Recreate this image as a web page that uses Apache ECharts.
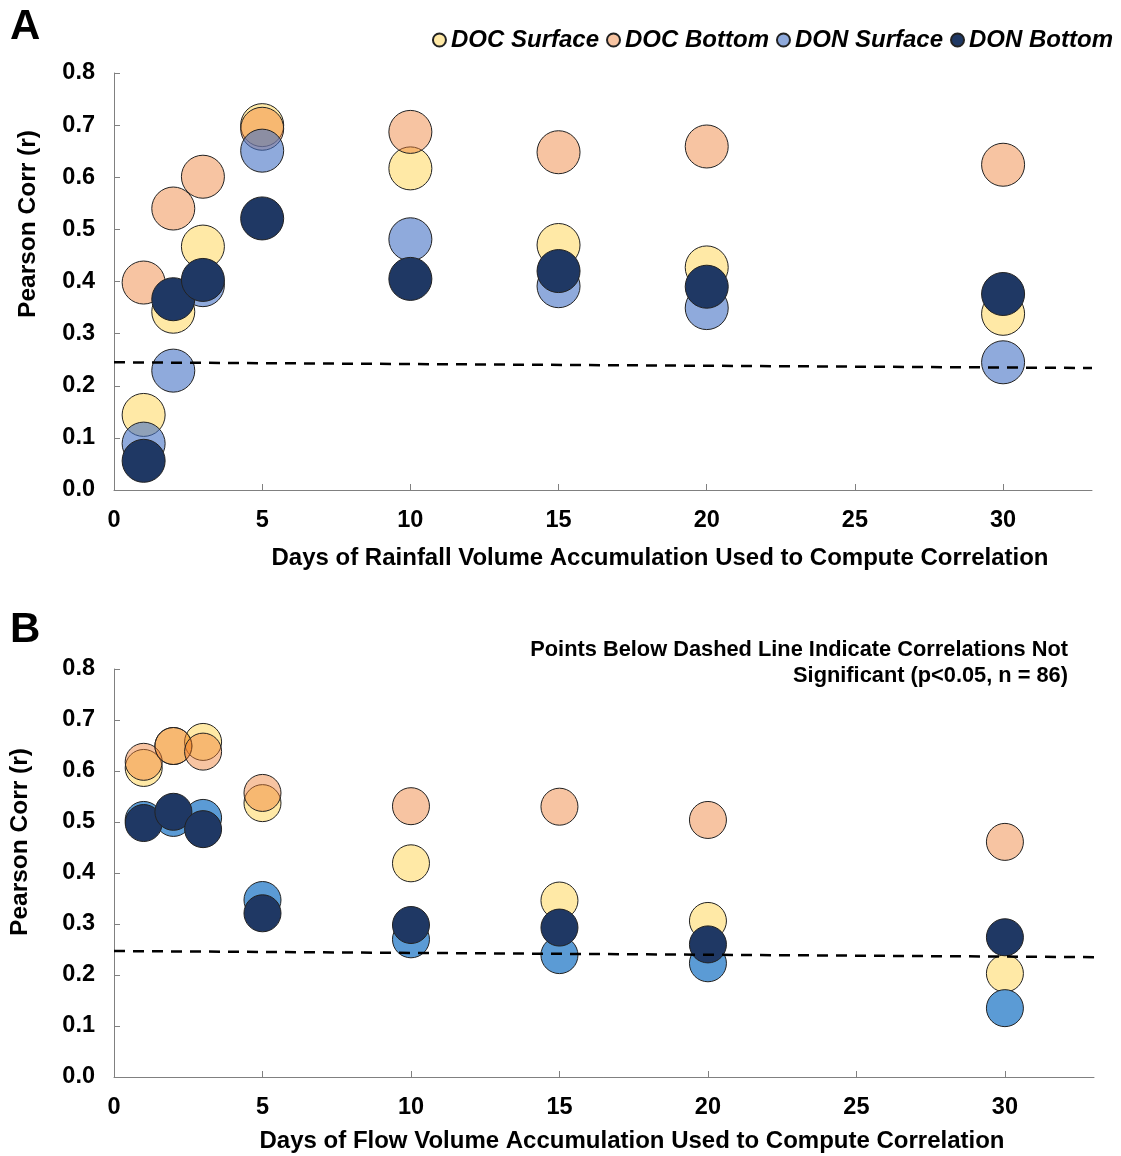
<!DOCTYPE html>
<html><head><meta charset="utf-8">
<script src="https://cdn.jsdelivr.net/npm/echarts@6/dist/echarts.min.js"></script>
<style>html,body{margin:0;padding:0;background:#fff}#c{width:1121px;height:1156px}</style>
</head><body><div id="c"></div>
<script>
// ---- data ----
const days = [1, 2, 3, 5, 10, 15, 20, 30];
const seriesNames = ['DOC Surface', 'DOC Bottom', 'DON Surface', 'DON Bottom'];

// Panel A: rainfall accumulation
const rainDocSurface = [0.144, 0.342, 0.467, 0.700, 0.617, 0.470, 0.427, 0.338];
const rainDocBottom  = [0.398, 0.540, 0.601, 0.693, 0.687, 0.648, 0.659, 0.624];
const rainDonSurface = [0.089, 0.229, 0.393, 0.651, 0.481, 0.391, 0.349, 0.245];
const rainDonBottom  = [0.056, 0.366, 0.403, 0.521, 0.405, 0.420, 0.390, 0.376];
const rainThreshold  = [[0, 0.245], [33, 0.234]];

// Panel B: flow accumulation
const flowDocSurface = [0.606, 0.649, 0.657, 0.537, 0.419, 0.346, 0.306, 0.203];
const flowDocBottom  = [0.618, 0.649, 0.638, 0.557, 0.531, 0.530, 0.504, 0.461];
const flowDonSurface = [0.504, 0.508, 0.508, 0.347, 0.270, 0.239, 0.223, 0.135];
const flowDonBottom  = [0.498, 0.520, 0.486, 0.321, 0.298, 0.293, 0.260, 0.274];
const flowThreshold  = [[0, 0.247], [33, 0.235]];

const yTicks = [0, 0.1, 0.2, 0.3, 0.4, 0.5, 0.6, 0.7, 0.8];
const xTicks = [0, 5, 10, 15, 20, 25, 30];

const FONT = '"Liberation Sans", Arial, sans-serif';
const pair = (xs, ys) => xs.map((x, i) => [x, ys[i]]);

const colorsA = ['rgba(255,192,0,0.35)', 'rgba(237,125,49,0.45)', 'rgba(68,114,196,0.6)', '#1F3864'];
const colorsB = ['rgba(255,192,0,0.35)', 'rgba(237,125,49,0.45)', '#5B9BD5', '#1F3864'];

function scatter(name, data, color, idx, size) {
  return {
    type: 'scatter', name, data, xAxisIndex: idx, yAxisIndex: idx,
    symbol: 'circle', symbolSize: size,
    itemStyle: { color, borderColor: '#222', borderWidth: 1, opacity: 1 },
    emphasis: { disabled: true }, z: 3
  };
}
function dashLine(data, idx) {
  return {
    type: 'line', data, xAxisIndex: idx, yAxisIndex: idx, showSymbol: false, symbol: 'none',
    lineStyle: { color: '#000', width: 2.5, type: [11, 8] }, silent: true, z: 5
  };
}
const axisCommon = {
  axisLine: { show: true, lineStyle: { color: '#808080', width: 1 } },
  axisTick: { show: true, inside: true, length: 6, lineStyle: { color: '#808080' } },
  splitLine: { show: false },
  axisLabel: { color: '#000', fontWeight: 'bold', fontSize: 23.5, fontFamily: FONT }
};
function xAxis(idx) {
  return Object.assign({}, axisCommon, {
    type: 'value', gridIndex: idx, min: 0, max: 33, interval: 5,
    axisLabel: Object.assign({}, axisCommon.axisLabel, { margin: 19, showMaxLabel: false,
      formatter: v => xTicks.includes(v) ? String(v) : '' })
  });
}
function yAxis(idx) {
  return Object.assign({}, axisCommon, {
    type: 'value', gridIndex: idx, min: yTicks[0], max: yTicks[yTicks.length - 1], interval: 0.1,
    axisLabel: Object.assign({}, axisCommon.axisLabel, { margin: 19, formatter: v => v.toFixed(1) })
  });
}

const rainSets = [rainDocSurface, rainDocBottom, rainDonSurface, rainDonBottom];
const flowSets = [flowDocSurface, flowDocBottom, flowDonSurface, flowDonBottom];

const series = [];
rainSets.forEach((s, i) => series.push(scatter(seriesNames[i], pair(days, s), colorsA[i], 0, 43)));
series.push(dashLine(rainThreshold, 0));
flowSets.forEach((s, i) => series.push(scatter(seriesNames[i], pair(days, s), colorsB[i], 1, 37)));
series.push(dashLine(flowThreshold, 1));

const titleStyle = { fill: '#000', fontWeight: 'bold', fontFamily: FONT };

const option = {
  animation: false,
  backgroundColor: '#fff',
  grid: [
    { left: 114, top: 73, width: 978, height: 417 },
    { left: 114, top: 669, width: 980, height: 408 }
  ],
  xAxis: [xAxis(0), xAxis(1)],
  yAxis: [yAxis(0), yAxis(1)],
  legend: {
    data: seriesNames, right: 3, top: 23, icon: 'circle', itemWidth: 13, itemHeight: 13,
    itemGap: 7, selectedMode: false,
    textStyle: { color: '#000', fontWeight: 'bold', fontStyle: 'italic', fontSize: 24, fontFamily: FONT }
  },
  graphic: [
    { type: 'text', left: 10, top: 6, style: Object.assign({ text: 'A', fontSize: 42 }, titleStyle) },
    { type: 'text', left: 10, top: 609, style: Object.assign({ text: 'B', fontSize: 42 }, titleStyle) },
    { type: 'text', x: 660, y: 558, style: Object.assign({ text: 'Days of Rainfall Volume Accumulation Used to Compute Correlation', fontSize: 24, align: 'center', verticalAlign: 'middle' }, titleStyle) },
    { type: 'text', x: 632, y: 1141, style: Object.assign({ text: 'Days of Flow Volume Accumulation Used to Compute Correlation', fontSize: 24, align: 'center', verticalAlign: 'middle' }, titleStyle) },
    { type: 'text', x: 28, y: 224, rotation: Math.PI / 2, style: Object.assign({ text: 'Pearson Corr (r)', fontSize: 24.5, align: 'center', verticalAlign: 'middle' }, titleStyle) },
    { type: 'text', x: 20, y: 842, rotation: Math.PI / 2, style: Object.assign({ text: 'Pearson Corr (r)', fontSize: 24.5, align: 'center', verticalAlign: 'middle' }, titleStyle) },
    { type: 'text', x: 1068, y: 663, style: Object.assign({ text: 'Points Below Dashed Line Indicate Correlations Not\nSignificant (p<0.05, n = 86)', fontSize: 21.8, align: 'right', verticalAlign: 'middle', lineHeight: 26 }, titleStyle) }
  ],
  series
};
const chart = echarts.init(document.getElementById('c'), null, { renderer: 'canvas' });
chart.setOption(option);
</script>
</body></html>
